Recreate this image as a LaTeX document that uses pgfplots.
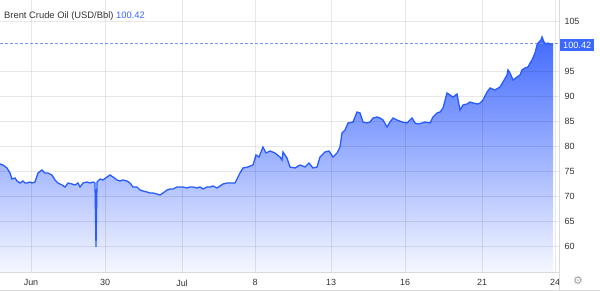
\documentclass[border=0pt]{standalone}
\usepackage{pgfplots}
\pgfplotsset{compat=1.18}
\usepackage{pgfplotstable}
\usepackage{fontspec}
\setmainfont{Liberation Sans}
\newfontfamily\symfont{DejaVu Sans}
\definecolor{lineblue}{RGB}{40,92,255}
\definecolor{fillTop}{RGB}{66,106,255}
\definecolor{fillBot}{RGB}{246,248,255}
\definecolor{labblue}{RGB}{58,104,255}
\definecolor{txt}{RGB}{51,51,51}
\definecolor{axgray}{RGB}{218,218,218}
\definecolor{dashblue}{RGB}{120,150,255}

\pgfplotstableread{
x y
0 76.4
3 76.2
7 75.6
10 74.6
12 73.4
15 73.6
17 73.0
20 72.6
23 73.0
25 72.6
27 72.6
30 72.8
32 72.6
35 72.8
38 74.6
42 75.2
45 74.6
48 74.6
50 74.4
52 74.2
55 73.2
58 72.6
62 72.2
65 71.8
68 72.6
72 72.4
75 72.2
78 72.6
80 71.8
83 72.6
87 72.8
90 72.6
93 72.8
95 72.6
96 59.8
97 72.8
100 73.4
103 73.2
107 73.8
110 74.2
113 73.8
117 73.2
120 73.0
123 73.2
127 73.0
130 72.6
133 71.8
137 71.8
140 71.2
143 71.0
147 70.8
150 70.6
153 70.6
157 70.4
160 70.2
163 70.6
167 71.2
170 71.4
173 71.4
177 71.8
180 71.8
183 71.8
187 71.6
190 71.8
193 71.8
197 71.6
200 71.8
203 71.4
207 71.8
210 71.8
213 72.0
217 71.6
220 72.0
223 72.4
227 72.6
230 72.6
233 72.6
235 72.6
238 73.8
240 74.6
243 75.6
248 75.8
253 76.2
256 78.2
259 77.8
263 79.8
266 78.6
270 79.0
275 78.6
280 77.8
282 77.2
283 78.8
287 77.6
290 75.8
295 75.6
300 76.2
305 75.8
309 76.6
313 75.6
317 75.8
320 77.8
325 78.8
329 79.0
333 77.8
337 78.6
340 79.8
342 82.6
345 83.2
348 84.6
353 84.8
357 86.8
360 86.6
363 84.8
367 84.6
370 84.8
373 85.6
377 85.8
380 85.6
383 85.2
387 83.8
390 84.8
393 85.6
397 85.2
402 84.8
407 84.6
412 85.6
415 84.6
418 84.4
422 84.6
425 84.8
430 84.6
433 85.8
437 86.6
440 86.8
443 87.6
447 90.6
450 90.2
453 89.8
457 90.4
460 87.2
463 88.2
467 88.4
470 88.8
473 88.6
478 88.4
480 88.6
483 89.2
487 90.8
490 91.6
495 91.2
500 91.8
503 92.8
507 94.2
508 95.2
510 94.6
513 93.2
517 93.8
520 94.2
522 95.2
525 95.6
528 95.8
530 96.6
532 97.2
535 98.6
537 100.2
538 100.6
541 101.2
542 101.8
544 100.8
546 100.4
548 100.6
550 100.4
552 100.4
553 100.42
}\brent

\begin{document}
\begin{tikzpicture}
\fill[white] (0bp,0bp) rectangle (600bp,291bp);
\begin{axis}[
  at={(0bp,19bp)}, anchor=south west, scale only axis,
  width=559bp, height=272bp,
  xmin=0, xmax=559, ymin=54.8, ymax=109.2,
  axis x line*=bottom, axis y line*=right,
  axis line style={axgray, -, line width=0.8bp},
  xtick={31,105,182,255,331,405,482,555},
  xticklabels={Jun,30,Jul,8,13,16,21,24},
  ytick={60,65,70,75,80,85,90,95,105},
  grid=major, major grid style={black, opacity=0.09, line width=0.8bp},
  tick style={draw=none},
  ticklabel style={font=\fontsize{9}{10}\selectfont, text=txt},
  /pgf/number format/assume math mode=true,
  yticklabel style={anchor=west, xshift=2bp},
  xticklabel style={yshift=-4bp},
  axis on top,
  clip mode=individual,
]
\addplot[draw=none, top color=fillTop, bottom color=fillBot] table[x=x,y=y] {\brent} -- (axis cs:553,54.8) -- (axis cs:0,54.8) -- cycle;
\addplot[dashblue, dash pattern=on 3bp off 2bp, line width=0.9bp] coordinates {(0,100.42) (559,100.42)};
\addplot[lineblue, line width=1.3bp] table[x=x,y=y] {\brent};
\node[fill=labblue, text=white, anchor=west, inner xsep=3bp, inner ysep=0bp, minimum height=12bp, font=\fontsize{9.2}{10}\selectfont, yshift=-1.5bp, xshift=1bp] at (axis cs:559,100.42) {100.42};
\end{axis}
\draw[axgray, line width=0.8bp] (559bp,0bp) -- (559bp,19bp);
\draw[axgray, line width=0.8bp] (0bp,1bp) -- (600bp,1bp);
\node[anchor=base west, inner sep=0pt, font=\fontsize{9.4}{10}\selectfont, text=txt] at (4bp,272.5bp) {Brent Crude Oil (USD/Bbl) \textcolor{labblue}{100.42}};
\node[text=gray!75, font=\symfont\fontsize{11}{11}\selectfont, inner sep=0pt] at (578bp,10bp) {⚙};
\pgfresetboundingbox
\path[use as bounding box] (0bp,0bp) rectangle (600bp,291bp);
\end{tikzpicture}
\end{document}
